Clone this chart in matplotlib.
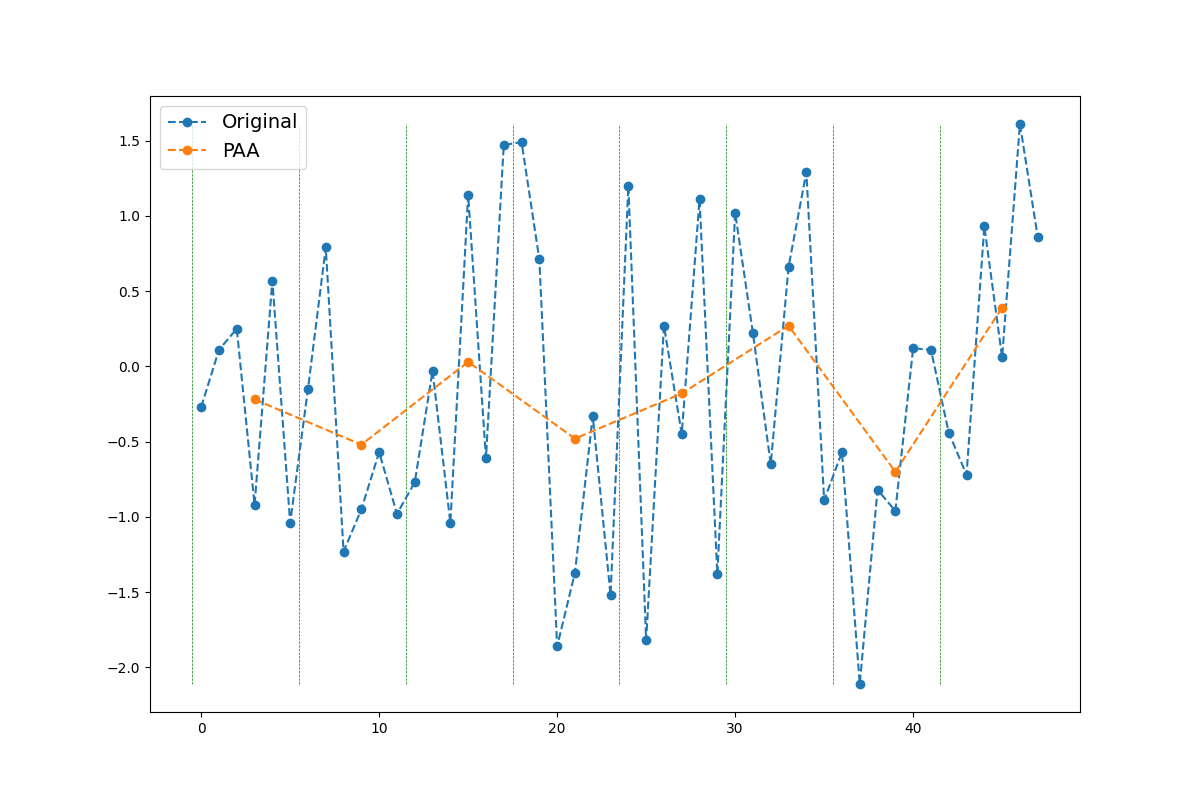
import numpy as np
import matplotlib
matplotlib.use("Agg")
import matplotlib.pyplot as plt

# original series
original = [-0.27, 0.11, 0.25, -0.92, 0.57, -1.04,
            -0.15, 0.79, -1.23, -0.95, -0.57, -0.98,
            -0.77, -0.03, -1.04, 1.14, -0.61, 1.47,
            1.49, 0.71, -1.86, -1.37, -0.33, -1.52,
            1.20, -1.82, 0.27, -0.45, 1.11, -1.38,
            1.02, 0.22, -0.65, 0.66, 1.29, -0.89,
            -0.57, -2.11, -0.82, -0.96, 0.12, 0.11,
            -0.44, -0.72, 0.93, 0.06, 1.61, 0.86]

# PAA segment centres and means
paa_x = [3, 9, 15, 21, 27, 33, 39, 45]
paa_values = [-0.22, -0.52, 0.03, -0.48, -0.18, 0.27, -0.70, 0.39]

# segment boundaries
segment_edges = [-0.5, 5.5, 11.5, 17.5, 23.5, 29.5, 35.5, 41.5]

fig = plt.figure(figsize=(12, 8), dpi=100)
ax = fig.add_subplot(111)

# segment separators go underneath the series
ax.vlines(segment_edges, min(original), max(original),
          colors="g", linestyles="--", linewidth=0.5)

ax.plot(np.arange(len(original)), original, "--o", label="Original")
ax.plot(paa_x, paa_values, "--o", label="PAA")

ax.legend(loc="upper left", fontsize=14)
fig.savefig("out.png", dpi=100)
